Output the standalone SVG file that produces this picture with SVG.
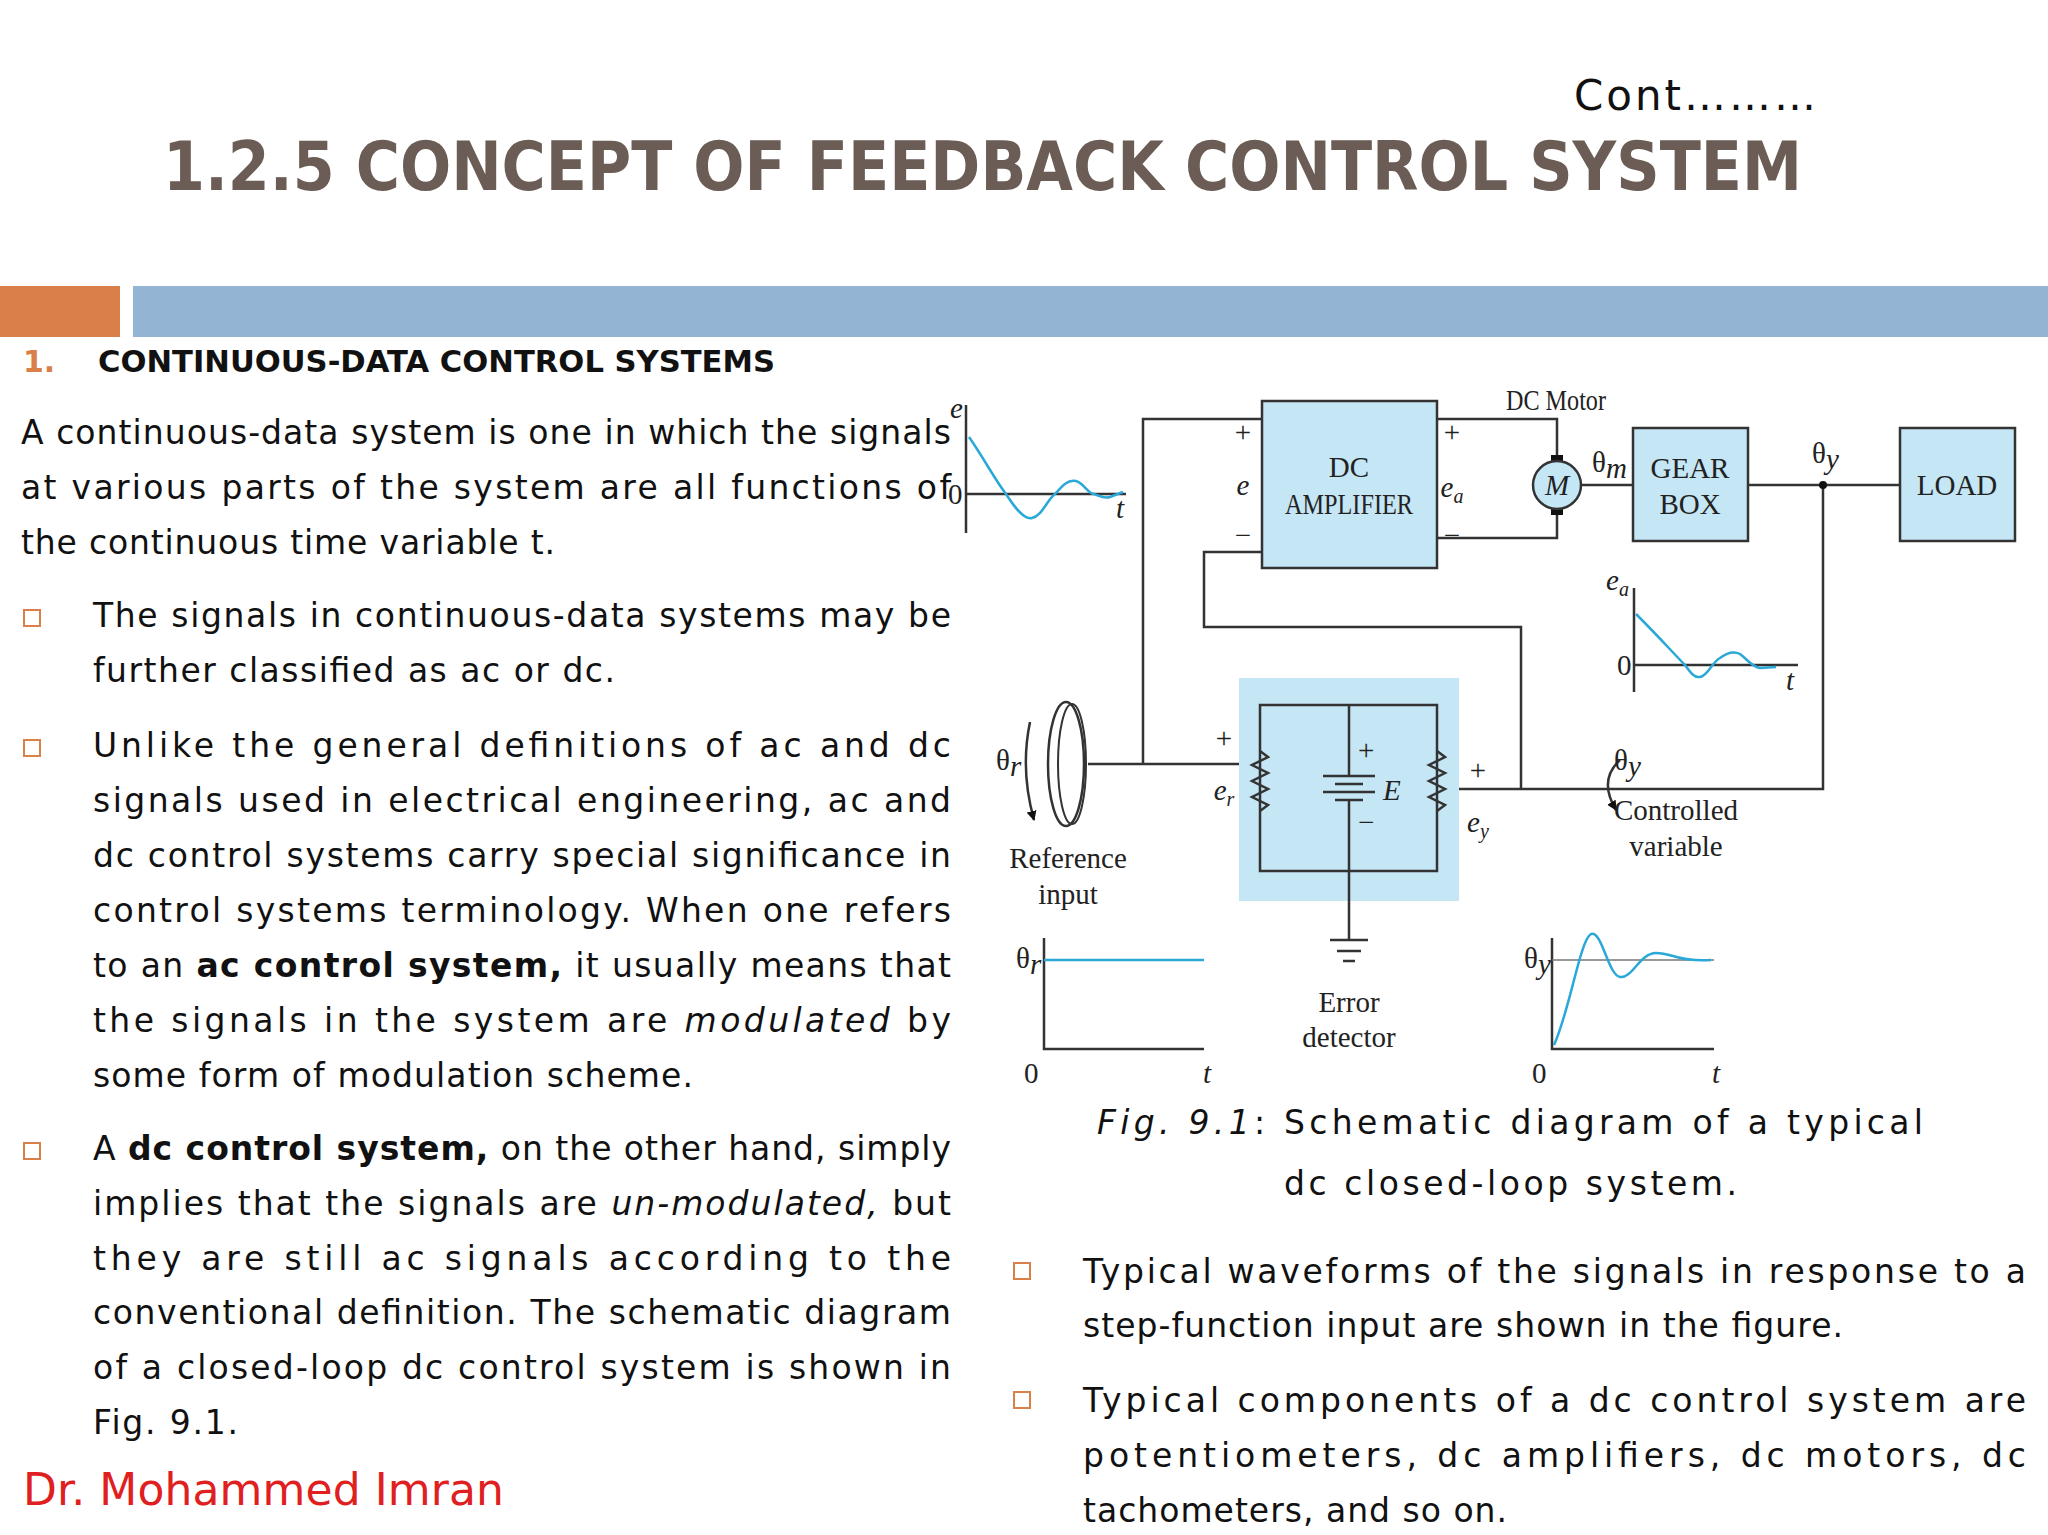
<svg xmlns="http://www.w3.org/2000/svg" width="2048" height="1535" viewBox="0 0 2048 1535">
<style>
.b{font-family:"DejaVu Sans","Liberation Sans",sans-serif;font-size:33px;fill:#111}
.d{font-family:"Liberation Serif","Times New Roman",serif;font-size:29px;fill:#222}
.di{font-family:"Liberation Serif","Times New Roman",serif;font-size:29px;fill:#222;font-style:italic}
.w{fill:none;stroke:#333;stroke-width:2.5}
.c{fill:none;stroke:#2aa8d8;stroke-width:2.5}
.box{fill:#c5e6f5;stroke:#333;stroke-width:2.5}
.sq{fill:none;stroke:#d9804a;stroke-width:2}
</style>
<defs>
<marker id="ar" markerWidth="10" markerHeight="10" refX="9" refY="5" orient="auto" markerUnits="userSpaceOnUse"><path d="M0,0 L10,5 L0,10 z" fill="#111"/></marker>
</defs>
<rect width="2048" height="1535" fill="#fff"/>
<g id="header">
<text x="1574" y="110" font-family="DejaVu Sans,sans-serif" font-size="42" fill="#111" textLength="242">Cont………</text>
<text x="163" y="190" font-family="DejaVu Sans,sans-serif" font-size="68" font-weight="bold" fill="#6b5d56" textLength="1639" lengthAdjust="spacingAndGlyphs">1.2.5 CONCEPT OF FEEDBACK CONTROL SYSTEM</text>
<rect x="0" y="286" width="120" height="51" fill="#d9804a"/>
<rect x="133" y="286" width="1915" height="51" fill="#94b4d4"/>
<text x="23" y="372" font-family="DejaVu Sans,sans-serif" font-size="30" font-weight="bold" fill="#d9804a">1.</text>
<text x="98" y="372" font-family="DejaVu Sans,sans-serif" font-size="30" font-weight="bold" fill="#111" textLength="677" lengthAdjust="spacingAndGlyphs">CONTINUOUS-DATA CONTROL SYSTEMS</text>
</g>
<g id="left-text">
<text class="b" x="21" y="444" textLength="930">A continuous-data system is one in which the signals</text>
<text class="b" x="21" y="499" textLength="930">at various parts of the system are all functions of</text>
<text class="b" x="21" y="554" textLength="534">the continuous time variable t.</text>
<rect class="sq" x="24" y="610" width="16" height="16"/>
<text class="b" x="93" y="627" textLength="858">The signals in continuous-data systems may be</text>
<text class="b" x="93" y="682" textLength="522">further classified as ac or dc.</text>
<rect class="sq" x="24" y="740" width="16" height="16"/>
<text class="b" x="93" y="757" textLength="858">Unlike the general definitions of ac and dc</text>
<text class="b" x="93" y="812" textLength="858">signals used in electrical engineering, ac and</text>
<text class="b" x="93" y="867" textLength="858">dc control systems carry special significance in</text>
<text class="b" x="93" y="922" textLength="858">control systems  terminology. When one refers</text>
<text class="b" x="93" y="977" textLength="858">to an <tspan font-weight="bold">ac control system,</tspan> it usually means that</text>
<text class="b" x="93" y="1032" textLength="858">the signals in the system are <tspan font-style="italic">modulated</tspan> by</text>
<text class="b" x="93" y="1087" textLength="600">some form of modulation scheme.</text>
<rect class="sq" x="24" y="1143" width="16" height="16"/>
<text class="b" x="93" y="1160" textLength="858">A <tspan font-weight="bold">dc control system,</tspan> on the other hand, simply</text>
<text class="b" x="93" y="1215" textLength="858">implies that the signals are <tspan font-style="italic">un-modulated,</tspan> but</text>
<text class="b" x="93" y="1270" textLength="858">they are still ac signals according to the</text>
<text class="b" x="93" y="1324" textLength="858">conventional definition. The schematic diagram</text>
<text class="b" x="93" y="1379" textLength="858">of a closed-loop dc control system is shown in</text>
<text class="b" x="93" y="1434" textLength="145">Fig. 9.1.</text>
<text x="23" y="1505" font-family="DejaVu Sans,sans-serif" font-size="44" fill="#e02020" textLength="481">Dr. Mohammed Imran</text>
</g>
<g id="right-text">
<text class="b" x="1097" y="1134" font-size="42" textLength="826"><tspan font-style="italic">Fig. 9.1</tspan>: Schematic diagram of a typical</text>
<text class="b" x="1284" y="1195" font-size="42" textLength="453">dc closed-loop system.</text>
<rect class="sq" x="1014" y="1263" width="16" height="16"/>
<text class="b" x="1083" y="1283" textLength="943">Typical waveforms of the signals in response to a</text>
<text class="b" x="1083" y="1337" textLength="760">step-function input are shown in the figure.</text>
<rect class="sq" x="1014" y="1392" width="16" height="16"/>
<text class="b" x="1083" y="1412" textLength="943">Typical components of a dc control system are</text>
<text class="b" x="1083" y="1467" textLength="943">potentiometers, dc amplifiers, dc motors, dc</text>
<text class="b" x="1083" y="1522" textLength="424">tachometers, and so on.</text>
</g>
<g id="connectors">
<path class="w" d="M1262,419 H1143 V764"/>
<path class="w" d="M1088,764 H1254" marker-end="url(#ar)"/>
<path class="w" d="M1437,419 H1557 V461"/>
<path class="w" d="M1437,538 H1557 V509"/>
<path class="w" d="M1262,552 H1204 V627 H1521 V789"/>
<path class="w" d="M1581,485 H1633"/>
<path class="w" d="M1748,485 H1900"/>
<path class="w" d="M1823,485 V789 H1443" marker-end="url(#ar)"/>
<circle cx="1823" cy="485" r="4" fill="#111"/>
</g>
<g id="amplifier">
<rect class="box" x="1262" y="401" width="175" height="167"/>
<text class="d" x="1349" y="477" text-anchor="middle">DC</text>
<text class="d" x="1349" y="514" text-anchor="middle" textLength="128" lengthAdjust="spacingAndGlyphs">AMPLIFIER</text>
<text class="d" x="1243" y="442" text-anchor="middle">+</text>
<text class="di" x="1243" y="495" text-anchor="middle">e</text>
<text class="d" x="1243" y="545" text-anchor="middle">−</text>
<text class="d" x="1452" y="442" text-anchor="middle">+</text>
<text class="di" x="1452" y="497" text-anchor="middle">e<tspan font-size="20" dy="6">a</tspan></text>
<text class="d" x="1452" y="545" text-anchor="middle">−</text>
</g>
<g id="motor">
<rect x="1551" y="455" width="12" height="12" fill="#111"/>
<rect x="1551" y="503" width="12" height="12" fill="#111"/>
<circle cx="1557" cy="485" r="24" fill="#c5e6f5" stroke="#333" stroke-width="2.5"/>
<text class="di" x="1557" y="495" text-anchor="middle">M</text>
<text class="d" x="1556" y="410" text-anchor="middle" textLength="100" lengthAdjust="spacingAndGlyphs">DC Motor</text>
<text class="d" x="1592" y="472">θ<tspan class="di" font-size="20" dy="6">m</tspan></text>
</g>
<g id="gearbox">
<rect class="box" x="1633" y="428" width="115" height="113"/>
<text class="d" x="1690" y="478" text-anchor="middle">GEAR</text>
<text class="d" x="1690" y="514" text-anchor="middle">BOX</text>
<text class="d" x="1812" y="463">θ<tspan class="di" font-size="20" dy="6">y</tspan></text>
</g>
<g id="load">
<rect class="box" x="1900" y="428" width="115" height="113"/>
<text class="d" x="1957" y="495" text-anchor="middle">LOAD</text>
</g>
<g id="error-detector">
<rect x="1239" y="678" width="220" height="223" fill="#c5e6f5"/>
<rect x="1260" y="705" width="177" height="166" fill="none" stroke="#333" stroke-width="2.5"/>
<path class="w" d="M1349,705 V776 M1349,800 V940"/>
<path class="w" d="M1323,776 H1375 M1335,784 H1363 M1323,792 H1375 M1335,800 H1363"/>
<text class="d" x="1358" y="760" font-size="24">+</text>
<text class="d" x="1358" y="832" font-size="24">−</text>
<text class="di" x="1383" y="800">E</text>
<path class="w" d="M1260,751 l8,6 -16,8 16,8 -16,8 16,8 -16,8 16,8 -8,6"/>
<path class="w" d="M1437,751 l8,6 -16,8 16,8 -16,8 16,8 -16,8 16,8 -8,6"/>
<path class="w" d="M1330,940 H1368 M1337,951 H1361 M1343,961 H1355"/>
<text class="d" x="1224" y="748" text-anchor="middle">+</text>
<text class="di" x="1224" y="800" text-anchor="middle">e<tspan font-size="20" dy="6">r</tspan></text>
<text class="d" x="1478" y="780" text-anchor="middle">+</text>
<text class="di" x="1478" y="832" text-anchor="middle">e<tspan font-size="20" dy="6">y</tspan></text>
<text class="d" x="1349" y="1012" text-anchor="middle">Error</text>
<text class="d" x="1349" y="1047" text-anchor="middle">detector</text>
</g>
<g id="reference-input">
<ellipse cx="1066" cy="764" rx="18" ry="62" fill="#fff" stroke="#333" stroke-width="2.5"/>
<ellipse cx="1072" cy="764" rx="14" ry="60" fill="none" stroke="#333" stroke-width="2"/>
<path d="M1030,722 Q1020,770 1034,820" class="w" marker-end="url(#ar)"/>
<text class="d" x="996" y="770">θ<tspan class="di" font-size="20" dy="6">r</tspan></text>
<text class="d" x="1068" y="868" text-anchor="middle">Reference</text>
<text class="d" x="1068" y="904" text-anchor="middle">input</text>
</g>
<g id="controlled-variable">
<path d="M1620,760 Q1598,780 1616,810" class="w" marker-end="url(#ar)"/>
<text class="d" x="1614" y="770">θ<tspan class="di" font-size="20" dy="6">y</tspan></text>
<text class="d" x="1676" y="820" text-anchor="middle">Controlled</text>
<text class="d" x="1676" y="856" text-anchor="middle">variable</text>
</g>
<g id="graph-e">
<path class="w" stroke-width="1.5" d="M966,405 V533 M966,494 H1126"/>
<path class="c" d="M969,437 C985,460 995,480 1006,494 C1015,508 1024,520 1032,518 C1042,516 1047,500 1055,494 C1062,486 1068,479 1076,481 C1084,483 1088,494 1094,494 C1100,496 1104,499 1110,497 L1123,492"/>
<text class="di" x="950" y="418">e</text>
<text class="d" x="948" y="504">0</text>
<text class="di" x="1116" y="518">t</text>
</g>
<g id="graph-ea">
<path class="w" stroke-width="1.5" d="M1634,588 V692 M1634,665 H1798"/>
<path class="c" d="M1636,614 C1660,638 1675,655 1685,665 C1690,672 1694,678 1700,677 C1708,676 1712,662 1720,658 C1728,652 1734,651 1740,654 C1748,660 1752,667 1760,668 L1776,667"/>
<text class="di" x="1606" y="590">e<tspan font-size="20" dy="6">a</tspan></text>
<text class="d" x="1617" y="675">0</text>
<text class="di" x="1786" y="690">t</text>
</g>
<g id="graph-thr">
<path class="w" stroke-width="1.5" d="M1044,938 V1049 H1204"/>
<path class="c" d="M1044,960 H1204"/>
<text class="d" x="1016" y="968">θ<tspan class="di" font-size="20" dy="6">r</tspan></text>
<text class="d" x="1024" y="1083">0</text>
<text class="di" x="1203" y="1083">t</text>
</g>
<g id="graph-thy">
<path class="w" stroke-width="1.5" d="M1552,938 V1049 H1714"/>
<path stroke="#777" stroke-width="1.5" d="M1552,960 H1714"/>
<path class="c" d="M1554,1045 C1570,1010 1580,940 1591,934 C1602,930 1608,975 1620,977 C1632,979 1640,953 1656,953 C1672,953 1680,962 1711,960"/>
<text class="d" x="1524" y="968">θ<tspan class="di" font-size="20" dy="6">y</tspan></text>
<text class="d" x="1532" y="1083">0</text>
<text class="di" x="1712" y="1083">t</text>
</g>
</svg>
